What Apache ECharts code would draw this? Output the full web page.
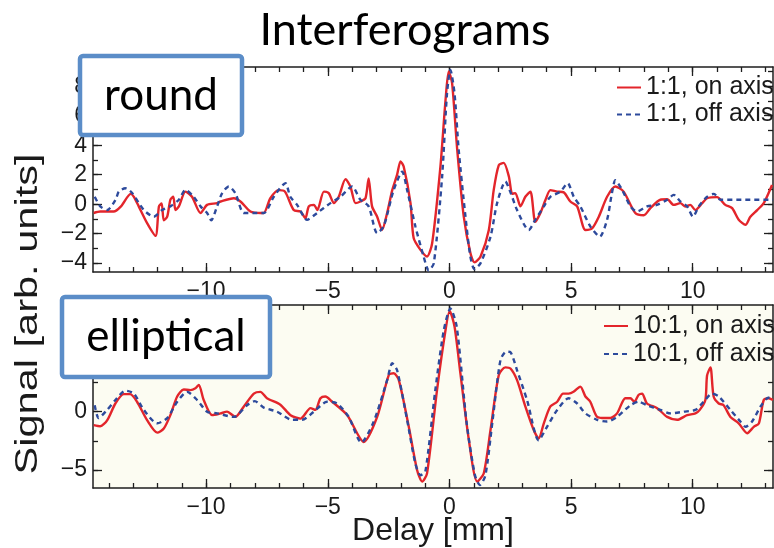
<!DOCTYPE html>
<html>
<head>
<meta charset="utf-8">
<title>Interferograms</title>
<script src="https://cdn.jsdelivr.net/npm/echarts@6/dist/echarts.min.js"></script>
<style>
  html, body { margin: 0; padding: 0; background: #ffffff; }
  #chart { width: 774px; height: 548px; }
</style>
</head>
<body>
<div id="chart"></div>
<script>
// Delay axis [mm] and tick positions
const xMajorTicks = [-10, -5, 0, 5, 10];
const xMinorTicks = [-14, -13, -12, -11, -10, -9, -8, -7, -6, -5, -4, -3, -2, -1, 0, 1, 2, 3, 4, 5, 6, 7, 8, 9, 10, 11, 12, 13];
const roundYMajor = [-4, -2, 0, 2, 4, 6, 8];
const roundYMinor = [-4, -3, -2, -1, 0, 1, 2, 3, 4, 5, 6, 7, 8, 9];
const ellipYMajor = [-5, 0, 5];
const ellipYMinor = [-5, -2.5, 0, 2.5, 5, 7.5];

const seriesNames = ['1:1, on axis', '1:1, off axis', '10:1, on axis', '10:1, off axis'];

// round beam, on axis  [delay mm, signal]
const roundOn = [
  [-14.62,-0.6],[-14.35,-0.5],[-13.8,-0.5],[-13.5,-0.15],[-13.1,0.7],[-12.97,0.5],[-12.77,-0.15],
  [-12.42,-1.3],[-12.08,-2.15],[-11.94,-0.15],[-11.83,0.05],[-11.74,-1.1],[-11.6,-0.85],[-11.47,0.3],
  [-11.35,0.5],[-11.26,-0.4],[-11.12,-0.15],[-10.85,0.85],[-10.58,0.5],[-10.23,-0.6],[-9.96,-0.05],
  [-9.55,0.07],[-9.41,0.18],[-8.86,0.4],[-8.59,0.18],[-8.18,-0.5],[-7.77,-0.6],[-7.63,-0.6],
  [-7.36,0.4],[-7.02,0.95],[-6.76,0.85],[-6.4,-0.4],[-6.12,-0.5],[-5.92,-0.95],[-5.78,-0.15],
  [-5.57,-0.05],[-5.43,-0.4],[-5.16,0.85],[-4.96,0.75],[-4.75,0.07],[-4.55,0.5],[-4.27,1.7],
  [-4.07,1.2],[-3.86,0.07],[-3.66,0.18],[-3.45,0.4],[-3.32,1.75],[-3.18,-0.15],[-2.97,-0.85],
  [-2.77,-1.75],[-2.56,-0.6],[-2.35,0.95],[-2.15,2.0],[-2.01,2.9],[-1.88,2.55],[-1.6,0.07],
  [-1.47,-2.3],[-1.19,-3.1],[-0.92,-3.55],[-0.71,-2.65],[-0.37,2.55],[-0.16,7.05],[-0.03,9.0],
  [0.11,8.2],[0.32,3.7],[0.59,-0.85],[0.86,-3.3],[1.03,-3.95],[1.28,-3.55],[1.62,-1.75],
  [1.82,0.95],[2.03,2.65],[2.23,2.8],[2.44,1.9],[2.58,0.7],[2.71,0.75],[2.92,-0.15],[3.12,0.5],
  [3.33,0.85],[3.53,-1.2],[3.74,-0.6],[3.95,0.3],[4.15,0.95],[4.43,0.85],[4.7,0.8],[4.97,0.18],
  [5.25,-0.15],[5.59,-1.75],[5.86,-1.65],[6.14,-0.85],[6.48,0.5],[6.82,1.2],[7.16,0.85],
  [7.64,-0.6],[7.99,-0.75],[8.26,-0.27],[8.67,0.3],[8.95,0.33],[9.22,-0.05],[9.49,0.07],
  [9.7,-0.16],[9.9,-0.05],[10.11,-0.4],[10.39,0.07],[10.59,0.4],[11.0,0.48],[11.34,-0.05],
  [11.62,-0.27],[11.89,-1.05],[12.17,-1.4],[12.37,-0.85],[12.65,-0.4],[12.92,0.07],[13.26,1.3]
];

// round beam, off axis
const roundOff = [
  [-14.58,0.5],[-14.35,-0.15],[-14.07,-0.4],[-13.72,0.3],[-13.59,0.85],[-13.32,1.08],[-13.04,0.75],
  [-12.56,-0.4],[-12.15,-0.85],[-11.81,-0.4],[-11.47,-0.15],[-11.12,0.3],[-10.85,0.97],[-10.51,0.5],
  [-10.23,-0.15],[-9.96,-0.6],[-9.79,-1.1],[-9.55,-0.15],[-9.34,0.75],[-9.07,1.2],[-8.8,0.75],
  [-8.45,-0.6],[-8.04,-0.6],[-7.63,-0.6],[-7.22,0.5],[-6.74,1.42],[-6.54,0.5],[-6.26,-0.05],
  [-5.85,-1.06],[-5.44,-0.6],[-4.89,0.07],[-4.48,0.5],[-4.0,1.2],[-3.66,0.3],[-3.32,-0.15],
  [-2.97,-1.97],[-2.7,-1.5],[-2.29,0.97],[-1.94,2.2],[-1.74,0.97],[-1.4,-1.5],[-1.06,-3.55],
  [-0.85,-4.5],[-0.64,-4.0],[-0.3,1.87],[-0.1,7.5],[0.04,9.1],[0.21,7.5],[0.38,3.7],[0.66,-0.85],
  [0.86,-3.55],[1.03,-4.4],[1.28,-4.0],[1.69,-2.2],[1.96,0.07],[2.3,1.53],[2.51,0.8],[2.78,-0.4],
  [3.26,-1.75],[3.53,-1.06],[3.88,-0.15],[4.15,0.5],[4.56,0.85],[4.86,1.42],[5.11,0.5],[5.38,-0.15],
  [5.79,-1.5],[6.18,-2.2],[6.48,-1.06],[6.68,0.75],[6.82,1.62],[7.1,0.97],[7.44,-0.15],[7.71,-0.5],
  [8.12,-0.15],[8.53,-0.05],[8.95,0.3],[9.22,0.63],[9.49,0.18],[9.77,-0.15],[10.01,-0.85],
  [10.25,-0.15],[10.59,0.5],[10.87,0.7],[11.14,0.3],[12.0,0.3],[13.3,0.3]
];

// elliptical beam, on axis
const ellipOn = [
  [-14.62,-1.15],[-14.35,-1.25],[-14.07,-0.75],[-13.73,0.7],[-13.39,1.5],[-13.12,1.5],[-12.84,0.85],
  [-12.42,-0.75],[-12.01,-1.8],[-11.74,-1.45],[-11.47,-0.3],[-11.19,1.3],[-10.92,1.9],[-10.65,1.85],
  [-10.44,2.0],[-10.3,2.3],[-10.1,1.0],[-9.75,-0.3],[-9.41,-0.15],[-9.14,0.0],[-8.8,-0.45],
  [-8.45,0.45],[-8.04,1.55],[-7.77,1.7],[-7.5,1.15],[-6.95,0.6],[-6.53,-0.3],[-6.12,-0.6],
  [-5.71,0.3],[-5.51,0.15],[-5.3,1.15],[-5.1,1.3],[-4.82,0.85],[-4.2,-0.3],[-3.52,-2.6],
  [-2.97,-0.45],[-2.49,3.15],[-2.29,3.3],[-2.08,2.7],[-1.67,-1.3],[-1.33,-5.0],[-1.12,-6.0],
  [-0.92,-5.3],[-0.51,1.85],[-0.16,7.0],[0.01,8.65],[0.21,7.3],[0.45,3.3],[0.8,-2.45],[1.14,-6.0],
  [1.41,-5.3],[1.69,-1.55],[2.03,3.15],[2.3,3.8],[2.51,3.7],[2.78,2.7],[3.12,0.45],[3.46,-1.55],
  [3.67,-2.3],[3.88,-1.0],[4.15,0.45],[4.43,0.85],[4.67,1.55],[4.9,1.55],[5.1,1.7],[5.38,2.15],
  [5.59,1.3],[5.79,0.85],[6.07,-0.45],[6.41,-0.55],[6.62,-0.55],[6.89,-0.15],[7.23,1.15],
  [7.44,1.15],[7.6,0.85],[7.78,1.45],[7.92,1.55],[8.12,0.7],[8.54,0.3],[8.95,-0.45],[9.36,-0.7],
  [9.77,-0.3],[10.11,-0.15],[10.29,0.15],[10.52,1.0],[10.59,3.1],[10.73,3.8],[10.86,1.3],
  [11.07,0.7],[11.27,0.55],[11.55,-0.45],[11.89,-1.0],[12.24,-1.85],[12.51,-1.3],[12.72,-1.0],
  [12.92,1.0],[13.12,1.15],[13.3,1.0]
];

// elliptical beam, off axis
const ellipOff = [
  [-14.58,0.55],[-14.42,-0.55],[-14.07,0.15],[-13.73,1.0],[-13.32,1.8],[-12.97,1.55],[-12.56,0.15],
  [-12.01,-1.0],[-11.6,-0.55],[-11.19,0.85],[-10.78,1.7],[-10.37,1.0],[-9.96,0.0],[-9.55,-0.15],
  [-8.86,-0.45],[-8.32,0.55],[-8.0,0.9],[-7.63,0.35],[-7.09,0.0],[-6.47,-0.7],[-6.05,-0.7],
  [-5.57,0.0],[-5.03,0.85],[-4.62,0.7],[-4.14,-0.45],[-3.62,-2.65],[-3.11,-0.85],[-2.56,2.7],
  [-2.35,4.15],[-2.15,3.55],[-1.74,-0.7],[-1.4,-4.45],[-1.19,-5.45],[-0.99,-5.15],[-0.58,1.85],
  [-0.23,7.0],[0.04,8.85],[0.3,7.3],[0.71,-1.0],[1.05,-5.45],[1.25,-6.3],[1.48,-5.45],[1.76,-1.0],
  [2.1,4.45],[2.34,5.15],[2.51,5.1],[2.78,3.55],[3.19,1.0],[3.67,-2.45],[4.01,-1.3],[4.43,0.15],
  [4.9,1.15],[5.25,0.7],[5.59,-0.15],[6.07,-0.7],[6.48,-0.85],[6.89,-0.45],[7.44,0.55],[7.78,0.85],
  [8.12,0.55],[8.67,0.15],[9.09,-0.15],[9.63,0.0],[10.11,0.15],[10.45,0.85],[10.8,1.55],
  [11.07,1.3],[11.55,0.15],[11.96,-0.85],[12.17,-1.3],[12.44,-0.85],[12.79,0.45],[13.06,1.15],
  [13.3,1.3]
];

const X_MIN = -14.65, X_MAX = 13.3;
const RED = '#e3252b';
const BLUE = '#2d4a9c';
const AXIS_COLOR = '#1e1e1e';
const TICK_FONT = '"Liberation Sans", Arial, Helvetica, sans-serif';
const BOX_FONT = 'Lato, "Open Sans", sans-serif';

const minusFmt = v => String(v).replace('-', '\u2212');

// One axis layer: either the long ticks (with labels) or the short minor ticks.
function xLayer(gridIndex, position, ticks, len, labels, name) {
  const ax = {
    type: 'value', gridIndex, position, min: X_MIN, max: X_MAX,
    splitLine: { show: false },
    axisLine: { show: len > 6, onZero: false, lineStyle: { color: AXIS_COLOR, width: 1.5 } },
    axisTick: { show: true, inside: true, length: len, customValues: ticks, lineStyle: { color: AXIS_COLOR, width: 1.3 } },
    axisLabel: labels
      ? { show: true, customValues: ticks, formatter: minusFmt, margin: 8, color: '#1a1a1a', fontSize: 23, fontFamily: TICK_FONT }
      : { show: false }
  };
  if (name) {
    ax.name = name;
    ax.nameLocation = 'middle';
    ax.nameGap = 27;
    ax.nameMoveOverlap = false;
    ax.nameTextStyle = { fontSize: 32, fontFamily: TICK_FONT, color: '#1a1a1a' };
  }
  return ax;
}

function yLayer(gridIndex, position, min, max, ticks, len, labels) {
  return {
    type: 'value', gridIndex, position, min, max,
    splitLine: { show: false },
    axisLine: { show: len > 6, onZero: false, lineStyle: { color: AXIS_COLOR, width: 1.5 } },
    axisTick: { show: true, inside: true, length: len, customValues: ticks, lineStyle: { color: AXIS_COLOR, width: 1.3 } },
    axisLabel: labels
      ? { show: true, customValues: ticks, formatter: minusFmt, margin: 6, color: '#1a1a1a', fontSize: 23, fontFamily: TICK_FONT }
      : { show: false }
  };
}

const xAxis = [
  xLayer(0, 'bottom', xMajorTicks, 9, true),
  xLayer(0, 'bottom', xMinorTicks, 5, false),
  xLayer(0, 'top', xMajorTicks, 9, false),
  xLayer(0, 'top', xMinorTicks, 5, false),
  xLayer(1, 'bottom', xMajorTicks, 9, true, 'Delay [mm]'),
  xLayer(1, 'bottom', xMinorTicks, 5, false),
  xLayer(1, 'top', xMajorTicks, 9, false),
  xLayer(1, 'top', xMinorTicks, 5, false)
];

const yAxis = [
  yLayer(0, 'left', -4.6, 9.3, roundYMajor, 9, true),
  yLayer(0, 'left', -4.6, 9.3, roundYMinor, 5, false),
  yLayer(0, 'right', -4.6, 9.3, roundYMajor, 9, false),
  yLayer(0, 'right', -4.6, 9.3, roundYMinor, 5, false),
  yLayer(1, 'left', -6.55, 9.15, ellipYMajor, 9, true),
  yLayer(1, 'left', -6.55, 9.15, ellipYMinor, 5, false),
  yLayer(1, 'right', -6.55, 9.15, ellipYMajor, 9, false),
  yLayer(1, 'right', -6.55, 9.15, ellipYMinor, 5, false)
];

function lineSeries(name, data, xi, yi, color, dashed) {
  return {
    name, type: 'line', data, xAxisIndex: xi, yAxisIndex: yi,
    symbol: 'none', smooth: 0.25, clip: true, z: dashed ? 3 : 2,
    lineStyle: { color, width: 2.4, type: dashed ? [5, 4] : 'solid' },
    itemStyle: { color }
  };
}

// legend block: plain line samples, no marker dot
function legendBlock(names, left, top, rowHeight) {
  return {
    data: names, orient: 'vertical', left, top, padding: 0,
    itemWidth: 24, itemHeight: 14, itemGap: 0, itemTextGap: 3,
    itemStyle: { opacity: 0, borderWidth: 0 },
    textStyle: { fontSize: 25, lineHeight: rowHeight, fontFamily: TICK_FONT, color: '#1a1a1a' }
  };
}

// framed caption drawn above the plot
function caption(x, y, w, h, text) {
  return {
    type: 'group', z: 100,
    children: [
      { type: 'rect', z: 100, shape: { x, y, width: w, height: h, r: 3 },
        style: { fill: '#ffffff', stroke: '#5b8dc8', lineWidth: 4.5 } },
      { type: 'text', z: 101, x: x + w / 2, y: y + h / 2,
        style: { text, fill: '#000000', font: '44px ' + BOX_FONT, textAlign: 'center', textVerticalAlign: 'middle' } }
    ]
  };
}

const option = {
  animation: false,
  backgroundColor: '#ffffff',
  title: {
    text: 'Interferograms', left: 400, top: 3, textAlign: 'center',
    textStyle: { fontSize: 45, fontWeight: 'normal', fontFamily: BOX_FONT, color: '#000000' }
  },
  grid: [
    { left: 93, top: 67, width: 680, height: 205, outerBoundsMode: 'none', containLabel: false,
      show: true, backgroundColor: '#ffffff', borderWidth: 0 },
    { left: 93, top: 305, width: 680, height: 183, outerBoundsMode: 'none', containLabel: false,
      show: true, backgroundColor: '#fcfcf2', borderWidth: 0 }
  ],
  legend: [
    legendBlock([seriesNames[0], seriesNames[1]], 616, 74, 27),
    legendBlock([seriesNames[2], seriesNames[3]], 603, 312, 28)
  ],
  xAxis, yAxis,
  series: [
    lineSeries(seriesNames[0], roundOn, 0, 0, RED, false),
    lineSeries(seriesNames[1], roundOff, 0, 0, BLUE, true),
    lineSeries(seriesNames[2], ellipOn, 4, 4, RED, false),
    lineSeries(seriesNames[3], ellipOff, 4, 4, BLUE, true)
  ],
  graphic: [
    { type: 'text', z: 50, x: 28, y: 314, rotation: Math.PI / 2, scaleX: 1.34,
      style: { text: 'Signal [arb. units]', fill: '#1a1a1a', font: '31px ' + TICK_FONT,
               textAlign: 'center', textVerticalAlign: 'middle' } },
    caption(80, 56, 162, 79, 'round'),
    caption(62, 297, 208, 80, 'elliptical')
  ]
};

const chart = echarts.init(document.getElementById('chart'), null, { renderer: 'canvas' });
chart.setOption(option);
</script>
</body>
</html>
